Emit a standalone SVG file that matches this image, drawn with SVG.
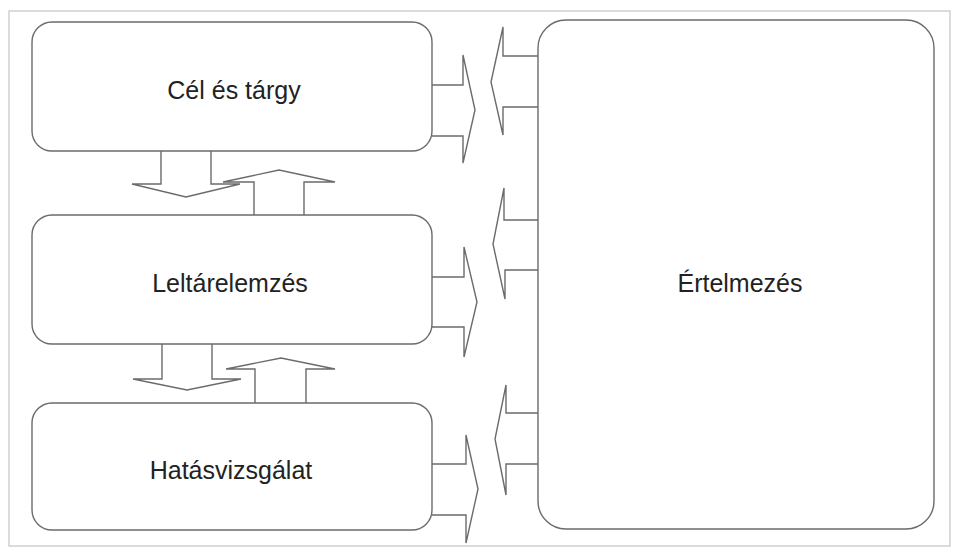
<svg xmlns="http://www.w3.org/2000/svg" width="953" height="549" viewBox="0 0 953 549">
  <style>
    .box { fill: #ffffff; stroke: #6b6b6b; stroke-width: 1.4; }
    .arrow { fill: #ffffff; stroke: #6b6b6b; stroke-width: 1.4; stroke-linejoin: miter; }
    .label { font-family: "Liberation Sans", Arial, sans-serif; font-size: 25px; fill: #222222; text-anchor: middle; }
  </style>
  <rect x="0" y="0" width="953" height="549" fill="#ffffff"/>
  <!-- outer frame -->
  <rect x="9" y="11" width="941" height="535" fill="none" stroke="#c4c4c4" stroke-width="1.2"/>

  <g id="connectors">
    <!-- vertical block arrows between the left stages -->
    <polyline class="arrow" points="161,151 161,184 132,184 186,197 240,184 211,184 211,151"/>
    <polyline class="arrow" points="254,215 254,182 223,182 279,170 335,182 304,182 304,215"/>
    <polyline class="arrow" points="162,344 162,379 133,379 187,390 241,379 212,379 212,344"/>
    <polyline class="arrow" points="255,403 255,369 226,369 281,358 335,369 306,369 306,403"/>
    <!-- block arrows towards the interpretation box -->
    <polyline class="arrow" points="432,85 463,85 463,55 475,110 463,163 463,136 432,136"/>
    <polyline class="arrow" points="432,277 464,277 464,247 477,302 464,357 464,327 432,327"/>
    <polyline class="arrow" points="432,464 466,464 466,435 478,489 466,543 466,515 432,515"/>
    <!-- block arrows back from the interpretation box -->
    <polyline class="arrow" points="538,56 503,56 503,27 491,82 503,135 503,107 538,107"/>
    <polyline class="arrow" points="538,220 504,220 504,188 493,244 505,299 505,270 538,270"/>
    <polyline class="arrow" points="538,413 506,413 506,385 495,439 506,495 506,464 538,464"/>
  </g>

  <g id="cel-es-targy">
    <rect class="box" x="32" y="22" width="400" height="129" rx="20" ry="20"/>
    <text class="label" x="234" y="99">Cél és tárgy</text>
  </g>
  <g id="leltarelemzes">
    <rect class="box" x="32" y="215" width="400" height="129" rx="20" ry="20"/>
    <text class="label" x="230" y="292">Leltárelemzés</text>
  </g>
  <g id="hatasvizsgalat">
    <rect class="box" x="32" y="403" width="400" height="127" rx="20" ry="20"/>
    <text class="label" x="231" y="479">Hatásvizsgálat</text>
  </g>
  <g id="ertelmezes">
    <rect class="box" x="538" y="20" width="396" height="509" rx="28" ry="28"/>
    <text class="label" x="740" y="292">Értelmezés</text>
  </g>
</svg>
